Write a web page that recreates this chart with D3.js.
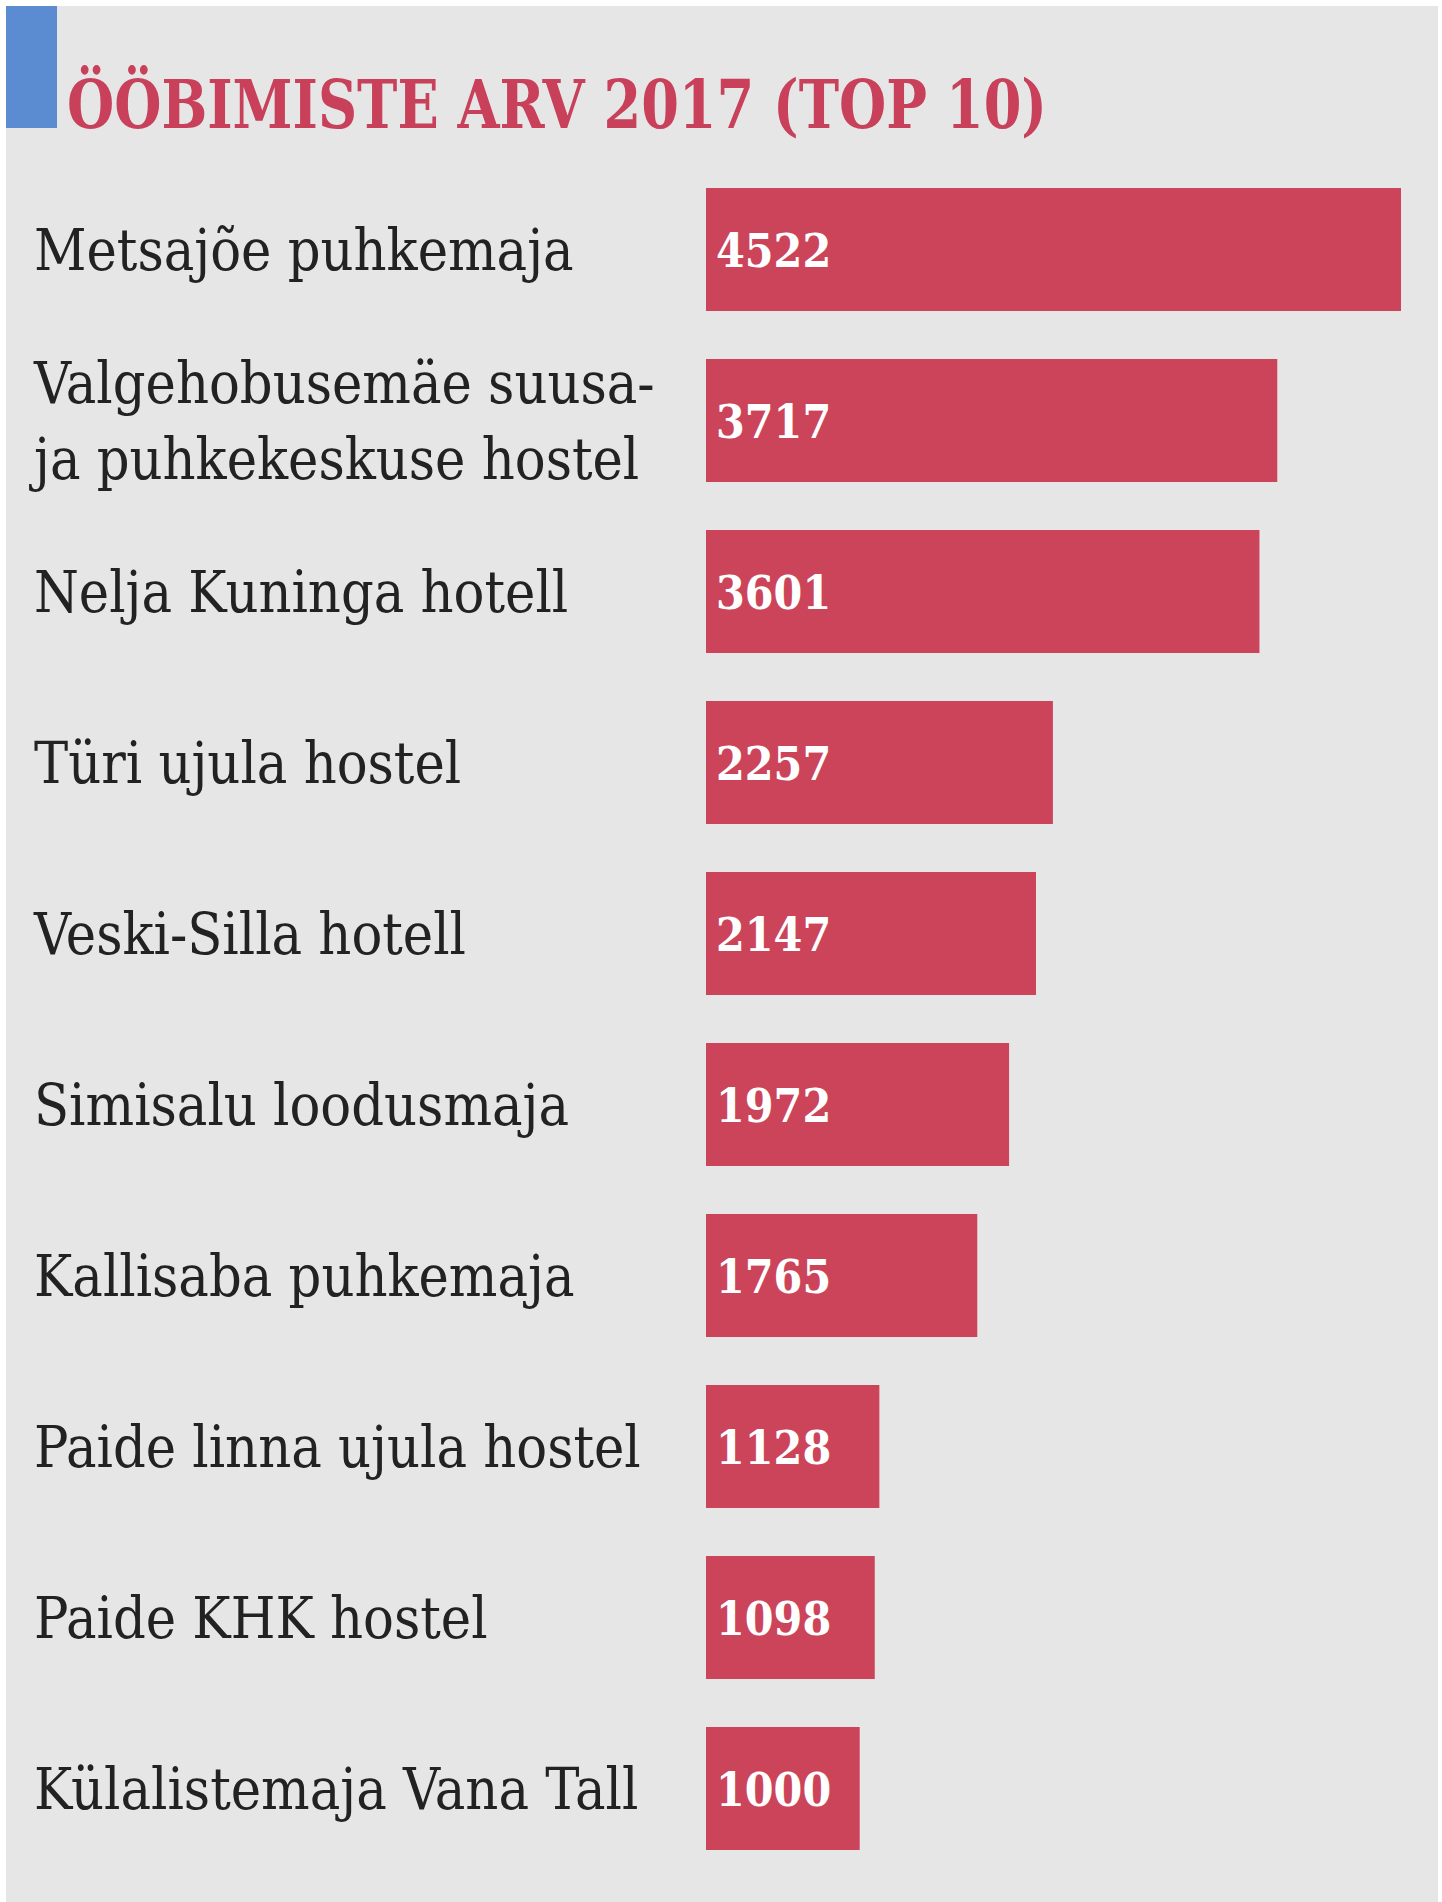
<!DOCTYPE html>
<html><head><meta charset="utf-8">
<script src="https://cdn.jsdelivr.net/npm/d3@7"></script>
<style>body{margin:0;background:#fff}</style>
</head><body>
<svg id="chart" width="1442" height="1902"></svg>
<script>
var names = [["Metsajõe puhkemaja"], ["Valgehobusemäe suusa-", "ja puhkekeskuse hostel"], ["Nelja Kuninga hotell"],
  ["Türi ujula hostel"], ["Veski-Silla hotell"], ["Simisalu loodusmaja"], ["Kallisaba puhkemaja"],
  ["Paide linna ujula hostel"], ["Paide KHK hostel"], ["Külalistemaja Vana Tall"]]
var values = [4522, 3717, 3601, 2257, 2147, 1972, 1765, 1128, 1098, 1000]

var svg = d3.select("#chart")
svg.append("rect").attr("x", 6).attr("y", 6).attr("width", 1432).attr("height", 1896).attr("fill", "#e6e6e6")
svg.append("rect").attr("x", 6).attr("y", 6).attr("width", 51).attr("height", 122).attr("fill", "#5b8bd0")
svg.append("text").attr("x", 67).attr("y", 128).attr("fill", "#c8405a")
  .style("font-family", "'DejaVu Serif Condensed', 'DejaVu Serif'").style("font-size", "68px").style("font-weight", "600")
  .attr("textLength", 980).attr("lengthAdjust", "spacingAndGlyphs")
  .text("ÖÖBIMISTE ARV 2017 (TOP 10)")

var x = d3.scaleLinear().domain([0, 4522]).range([706, 1401])
// band step 171, bar height 123
var y = d3.scaleBand().domain(d3.range(values.length)).range([188, 188 + 171 * 9 + 123]).paddingInner(48 / 171).paddingOuter(0)

var g = svg.selectAll(".row").data(values).enter().append("g")
g.append("rect").attr("x", x(0)).attr("y", function(d, i){ return y(i) })
  .attr("width", function(d){ return x(d) - x(0) }).attr("height", y.bandwidth()).attr("fill", "#cc445a")
g.append("text").attr("x", 716).attr("y", function(d, i){ return y(i) + y.bandwidth() / 2 + 17 })
  .attr("fill", "#fff").style("font-family", "'DejaVu Serif Condensed', 'DejaVu Serif'").style("font-weight", "bold").style("font-size", "46px")
  .text(function(d){ return d })

g.each(function(d, i){
  var lines = names[i]
  var cy = y(i) + y.bandwidth() / 2
  lines.forEach(function(l, j){
    d3.select(this).append("text").attr("x", 34)
      .attr("y", cy + 20 + (j - (lines.length - 1) / 2) * 76)
      .attr("fill", "#222").style("font-family", "'DejaVu Serif Condensed', 'DejaVu Serif'").style("font-size", "57px")
      .text(l)
  }, this)
})
</script>
</body></html>
